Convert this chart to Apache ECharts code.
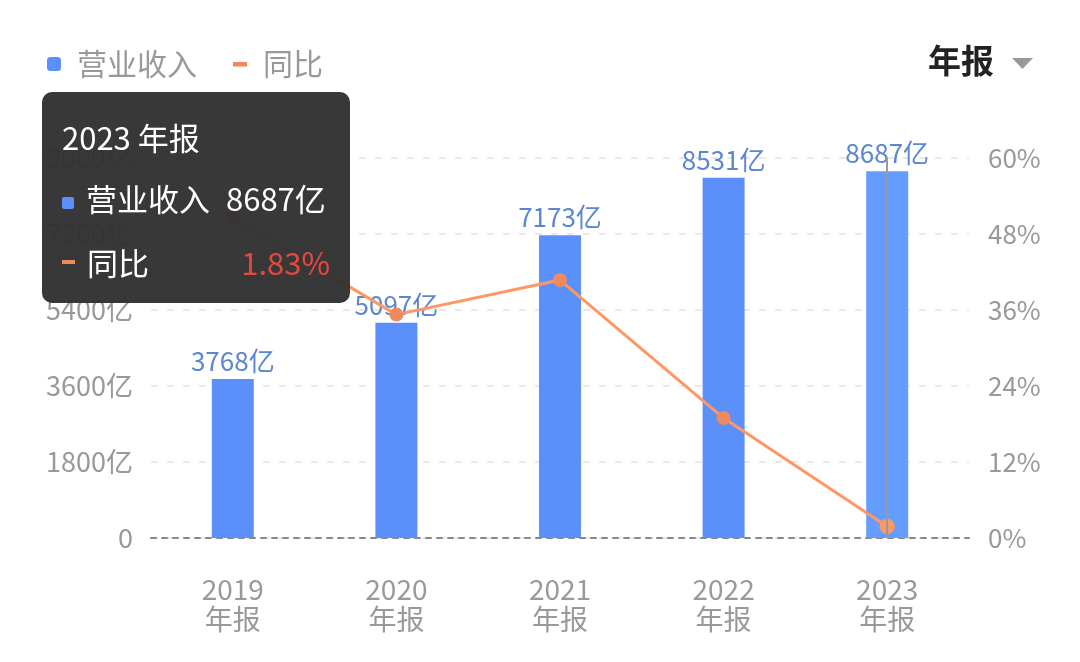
<!DOCTYPE html>
<html>
<head>
<meta charset="utf-8">
<script src="https://cdn.jsdelivr.net/npm/echarts@6/dist/echarts.min.js"></script>
<style>
  html,body{margin:0;padding:0;background:#fff;}
  #main{width:1080px;height:662px;}
</style>
</head>
<body>
<div id="main"></div>
<script>
// 数据
var years = ['2019', '2020', '2021', '2022', '2023'];
var revenue = [3768, 5097, 7173, 8531, 8687];      // 营业收入（亿）
var yoy = [50.58, 35.27, 40.73, 18.93, 1.83];       // 同比（%）
var leftTicks = [0, 1800, 3600, 5400, 7200, 9000];
var rightTicks = [0, 12, 24, 36, 48, 60];

var FONT = '"Noto Sans CJK SC", "Noto Sans", sans-serif';
var BLUE = '#5B8FF9';
var ORANGE = '#EE8A5B';

var myChart = echarts.init(document.getElementById('main'));
var option = {
    animation: false,
    textStyle: {fontFamily: FONT},
    legend: {
        left: 42,
        top: 44,
        itemWidth: 14,
        itemHeight: 14,
        itemGap: 36,
        textStyle: {fontSize: 30, color: '#999', fontFamily: FONT, padding: [0, 0, 0, 11]},
        data: [
            {name: '营业收入', icon: 'roundRect'},
            {name: '同比', icon: 'path://M0,0 L14,0 L14,0.01 Z M0,5 L14,5 L14,9.5 L0,9.5 Z M0,14 L0.01,14 L0,14.01 Z'}
        ]
    },
    tooltip: {
        trigger: 'axis',
        triggerOn: 'none',
        alwaysShowContent: true,
        position: [42, 92],
        backgroundColor: 'rgba(50,50,50,0.97)',
        borderWidth: 0,
        padding: [16, 20, 9, 20],
        extraCssText: 'border-radius:10px;box-shadow:none;width:268px;',
        axisPointer: {
            type: 'line',
            lineStyle: {color: '#999', width: 2, type: 'solid'}
        },
        formatter: function (params) {
            var i = params[0].dataIndex;
            var s = '<div style="font-family:' + FONT.replace(/"/g, "'") + ';color:#fff;font-size:31px;">';
            s += '<div style="line-height:58px;">' + years[i] + ' 年报</div>';
            s += '<div style="line-height:64px;white-space:nowrap;"><span style="display:inline-block;width:12px;height:12px;border-radius:2px;background:' + BLUE + ';margin-right:12px;vertical-align:middle;"></span>营业收入<span style="margin-left:16px;">' + revenue[i] + '亿</span></div>';
            s += '<div style="line-height:64px;white-space:nowrap;display:flex;align-items:center;"><span style="display:inline-block;width:13px;height:4px;background:' + ORANGE + ';margin-right:12px;"></span>同比<span style="margin-left:auto;color:#E5483F;">' + yoy[i].toFixed(2) + '%</span></div>';
            s += '</div>';
            return s;
        }
    },
    grid: {left: 151, right: 111, top: 158, bottom: 124},
    xAxis: {
        type: 'category',
        data: years,
        axisLine: {show: true, lineStyle: {color: '#888', type: [5, 6], width: 2}},
        axisTick: {show: false},
        axisLabel: {
            margin: 36,
            fontSize: 28,
            lineHeight: 30,
            color: '#999',
            formatter: function (v) { return v + '\n年报'; }
        }
    },
    yAxis: [
        {
            type: 'value',
            min: leftTicks[0],
            max: leftTicks[leftTicks.length - 1],
            interval: leftTicks[1] - leftTicks[0],
            axisLine: {show: false},
            axisTick: {show: false},
            splitLine: {lineStyle: {color: '#e8e8e8', type: [7, 9], width: 2}},
            axisLabel: {
                margin: 18,
                fontSize: 27,
                color: '#999',
                formatter: function (v) { return v === 0 ? '0' : v + '亿'; }
            }
        },
        {
            type: 'value',
            min: rightTicks[0],
            max: rightTicks[rightTicks.length - 1],
            interval: rightTicks[1] - rightTicks[0],
            axisLine: {show: false},
            axisTick: {show: false},
            splitLine: {show: false},
            axisLabel: {
                margin: 19,
                fontSize: 26,
                color: '#999',
                formatter: '{value}%'
            }
        }
    ],
    series: [
        {
            name: '营业收入',
            type: 'bar',
            data: revenue,
            barWidth: 42,
            itemStyle: {color: BLUE},
            label: {
                show: true,
                position: 'top',
                distance: 5,
                fontSize: 26,
                color: '#5B86D2',
                formatter: '{c}亿'
            }
        },
        {
            name: '同比',
            type: 'line',
            yAxisIndex: 1,
            data: yoy,
            symbol: 'circle',
            symbolSize: 14,
            lineStyle: {color: ORANGE, width: 3},
            itemStyle: {color: ORANGE}
        }
    ],
    graphic: [
        {
            type: 'text',
            left: 928,
            top: 44,
            style: {text: '年报', fill: '#222', font: 'bold 33px ' + FONT}
        },
        {
            type: 'polygon',
            shape: {points: [[1012, 58], [1033, 58], [1022.5, 69]]},
            style: {fill: '#999'}
        }
    ]
};
myChart.setOption(option);
myChart.dispatchAction({type: 'showTip', seriesIndex: 0, dataIndex: 4});
</script>
</body>
</html>
